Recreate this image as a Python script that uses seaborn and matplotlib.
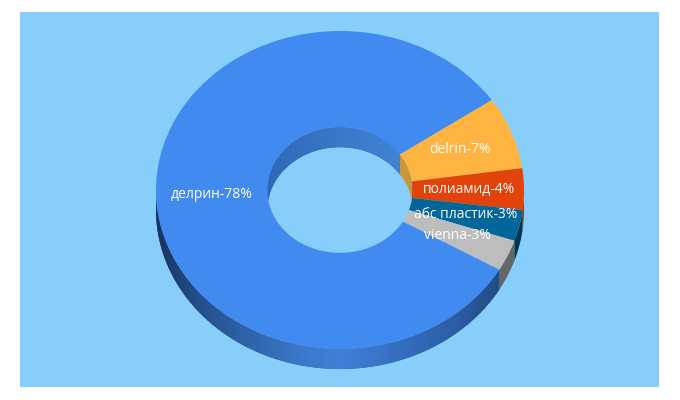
import numpy as np
import matplotlib
matplotlib.use('Agg')
import matplotlib.pyplot as plt
from matplotlib.colors import LinearSegmentedColormap
import seaborn as sns

# === Data ===
labels = ['делрин-78%', 'delrin-7%', 'полиамид-4%', 'абс пластик-3%', 'vienna-3%']
shares = [78, 7, 4, 3, 3]
top_colors = ['#418af0', '#ffb340', '#e1430a', '#00669a', '#bdbdbd']
side_colors = ['#2a5aa0', '#c9963a', '#a83208', '#00344f', '#666666']

# === Layout (pixels of the 680x400 picture) ===
W, H = 680, 400
panel = (20, 12, 659, 387)
cx, cy, rx, ry = 340, 190, 184, 159
depth = 20 / ry
hole = 0.395

sns.set_theme(style='white')
plt.rcParams['font.family'] = ['Open Sans', 'DejaVu Sans']

fig = plt.figure(figsize=(W / 100, H / 100), dpi=100, facecolor='white')
ax = fig.add_axes([panel[0] / W, 1 - panel[3] / H, (panel[2] - panel[0]) / W, (panel[3] - panel[1]) / H])

wedges, texts = ax.pie(
    shares, labels=labels, startangle=-30, counterclock=False, colors=top_colors,
    labeldistance=0.7, radius=1, wedgeprops={'width': 1 - hole, 'linewidth': 0},
    textprops={'color': 'white', 'fontsize': 10},
)
for w in wedges:
    w.set_zorder(3)
for t in texts:
    t.set_ha('center')
    t.set_va('center')
    t.set_zorder(4)


def band(wedge, r, upper):
    # wall between an arc of the ellipse and the same arc moved down
    t = np.radians(np.linspace(wedge.theta1, wedge.theta2, 800))
    t = t[np.sin(t) > 0] if upper else t[np.sin(t) < 0]
    if len(t) == 0:
        return None
    x, y = r * np.cos(t), r * np.sin(t)
    return np.r_[x, x[::-1]], np.r_[y, y[::-1] - depth]


outer_cmap = LinearSegmentedColormap.from_list('outer', [
    (0.0, '#17335f'), (0.12, '#25508e'), (0.39, '#3a78c8'), (0.5, '#3f80d8'), (0.8, '#2d5fa8'), (1.0, '#1f4176')])
inner_cmap = LinearSegmentedColormap.from_list('inner', ['#2f69b6', '#3a78c8', '#4485d6'])

# === Side walls ===
for i, w in enumerate(wedges):
    for r, upper, cmap in [(1, False, outer_cmap), (hole, True, inner_cmap)]:
        pts = band(w, r, upper)
        if pts is None:
            continue
        poly = ax.fill(pts[0], pts[1], color=side_colors[i], linewidth=0, zorder=1)[0]
        if i == 0:
            im = ax.imshow(np.linspace(0, 1, 256)[None, :], cmap=cmap, aspect='auto', zorder=2,
                           extent=[-r, r, -2, 2])
            im.set_clip_path(poly)

# === Scale so one unit is rx across and ry up ===
ax.set_aspect('auto')
ax.set_xlim((panel[0] - cx) / rx, (panel[2] - cx) / rx)
ax.set_ylim((cy - panel[3]) / ry, (cy - panel[1]) / ry)
ax.set_frame_on(True)
ax.set_facecolor('#87cefa')
for s in ax.spines.values():
    s.set_visible(False)
ax.set_xticks([])
ax.set_yticks([])

fig.savefig('out.png', dpi=100)
